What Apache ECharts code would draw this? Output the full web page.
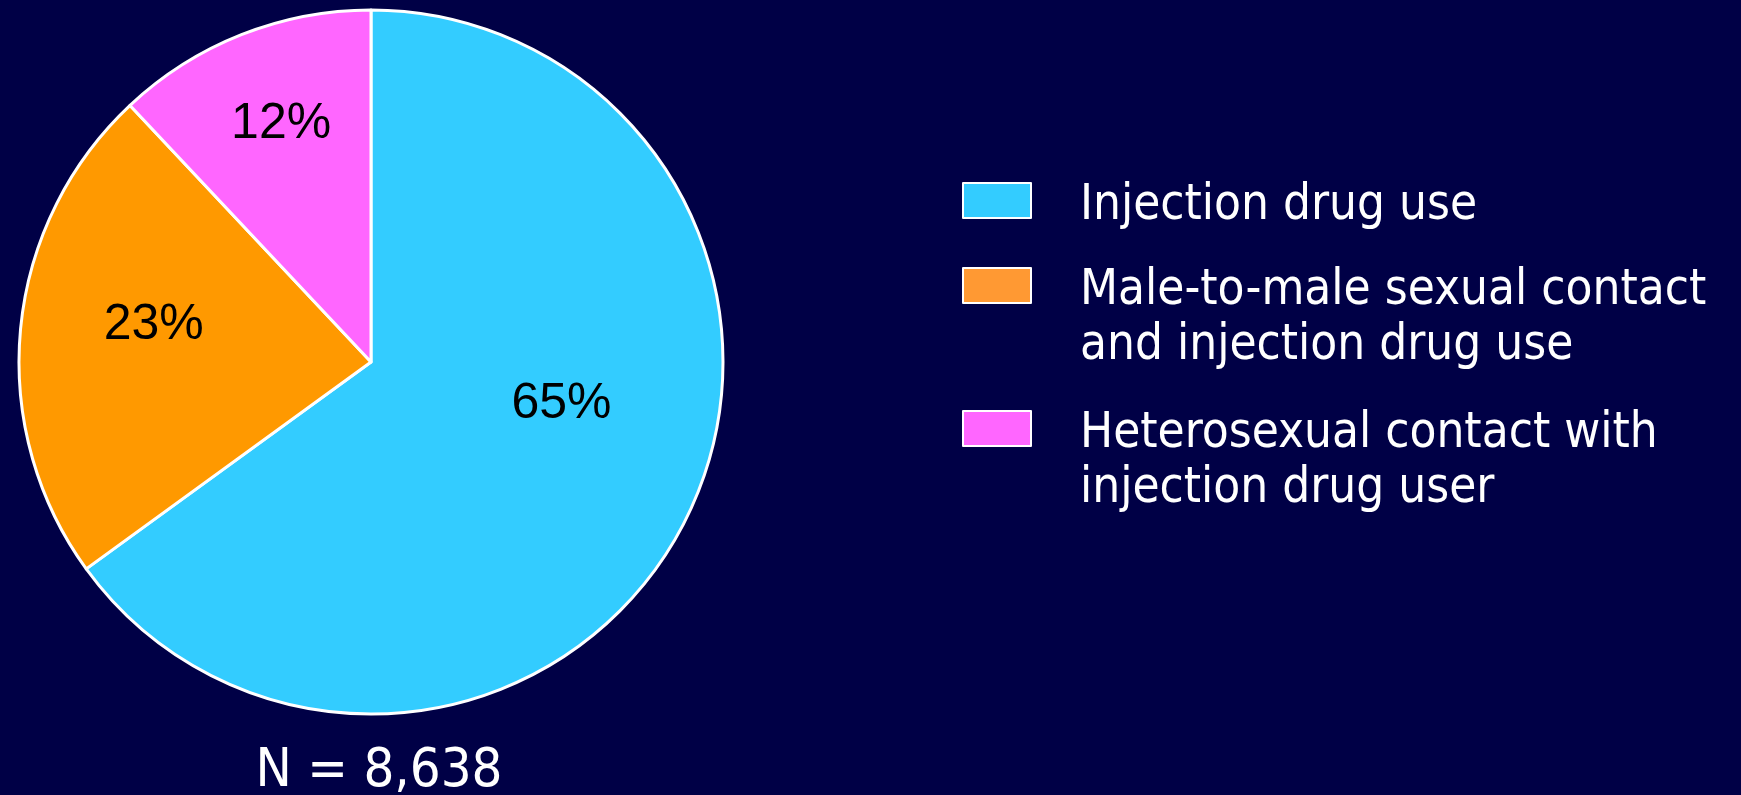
<!DOCTYPE html>
<html>
<head>
<meta charset="utf-8">
<script src="https://cdn.jsdelivr.net/npm/echarts@6/dist/echarts.min.js"></script>
<style>
html,body{margin:0;padding:0;background:#000046;}
#chart{width:1741px;height:795px;}
</style>
</head>
<body>
<div id="chart"></div>
<script>
// Data
const categories = [
  'Injection drug use',
  'Male-to-male sexual contact\nand injection drug use',
  'Heterosexual contact with\ninjection drug user'
];
const values = [65, 23, 12];
const totalLabel = 'N = 8,638';

// Styles (kept separate from data)
const sliceColors = ['#33CCFF', '#FF9900', '#FF66FF'];
const legendColors = ['#33CCFF', '#FF9933', '#FF66FF'];
const labelOffsets = [[31, -39], [-39, -20], [-24, -71]];
const legendTops = [167, 197, 340];
const FONT = '"DejaVu Sans Condensed", "Liberation Sans", sans-serif';

const chart = echarts.init(document.getElementById('chart'));

const legends = categories.map((name, i) => ({
  data: [{ name: name, itemStyle: { color: legendColors[i], borderColor: '#ffffff', borderWidth: 2 } }],
  orient: 'vertical',
  left: 962,
  top: legendTops[i],
  padding: 0,
  icon: 'rect',
  itemWidth: 68,
  itemHeight: 35,
  selectedMode: false,
  formatter: (n) => {
    const lines = n.split('\n').map(l => '{a|' + l + '}');
    return (lines.length > 1 ? '{s2| }' : '{s1| }') + '\n' + lines.join('\n');
  },
  textStyle: {
    color: '#ffffff',
    fontFamily: FONT,
    fontSize: 49,
    lineHeight: 55,
    rich: {
      a: { color: '#ffffff', fontFamily: FONT, fontSize: 49, lineHeight: 55, padding: [0, 0, 0, 44] },
      s1: { fontSize: 8, lineHeight: 12 },
      s2: { fontSize: 8, lineHeight: 67 }
    }
  }
}));

chart.setOption({
  backgroundColor: '#000046',
  animation: false,
  title: {
    text: totalLabel,
    left: 374,
    top: 740,
    textAlign: 'center',
    textStyle: { color: '#ffffff', fontFamily: FONT, fontSize: 54, fontWeight: 'normal' }
  },
  legend: legends,
  series: [{
    type: 'pie',
    center: [371, 362],
    radius: 352,
    startAngle: 90,
    clockwise: true,
    silent: true,
    itemStyle: { borderColor: '#ffffff', borderWidth: 3 },
    label: {
      show: true,
      position: 'inside',
      color: '#000000',
      fontFamily: '"Liberation Sans", sans-serif',
      fontSize: 50,
      formatter: (p) => p.value + '%'
    },
    labelLine: { show: false },
    data: categories.map((name, i) => ({
      name: name,
      value: values[i],
      itemStyle: { color: sliceColors[i] },
      label: { offset: labelOffsets[i] }
    }))
  }]
});
</script>
</body>
</html>
